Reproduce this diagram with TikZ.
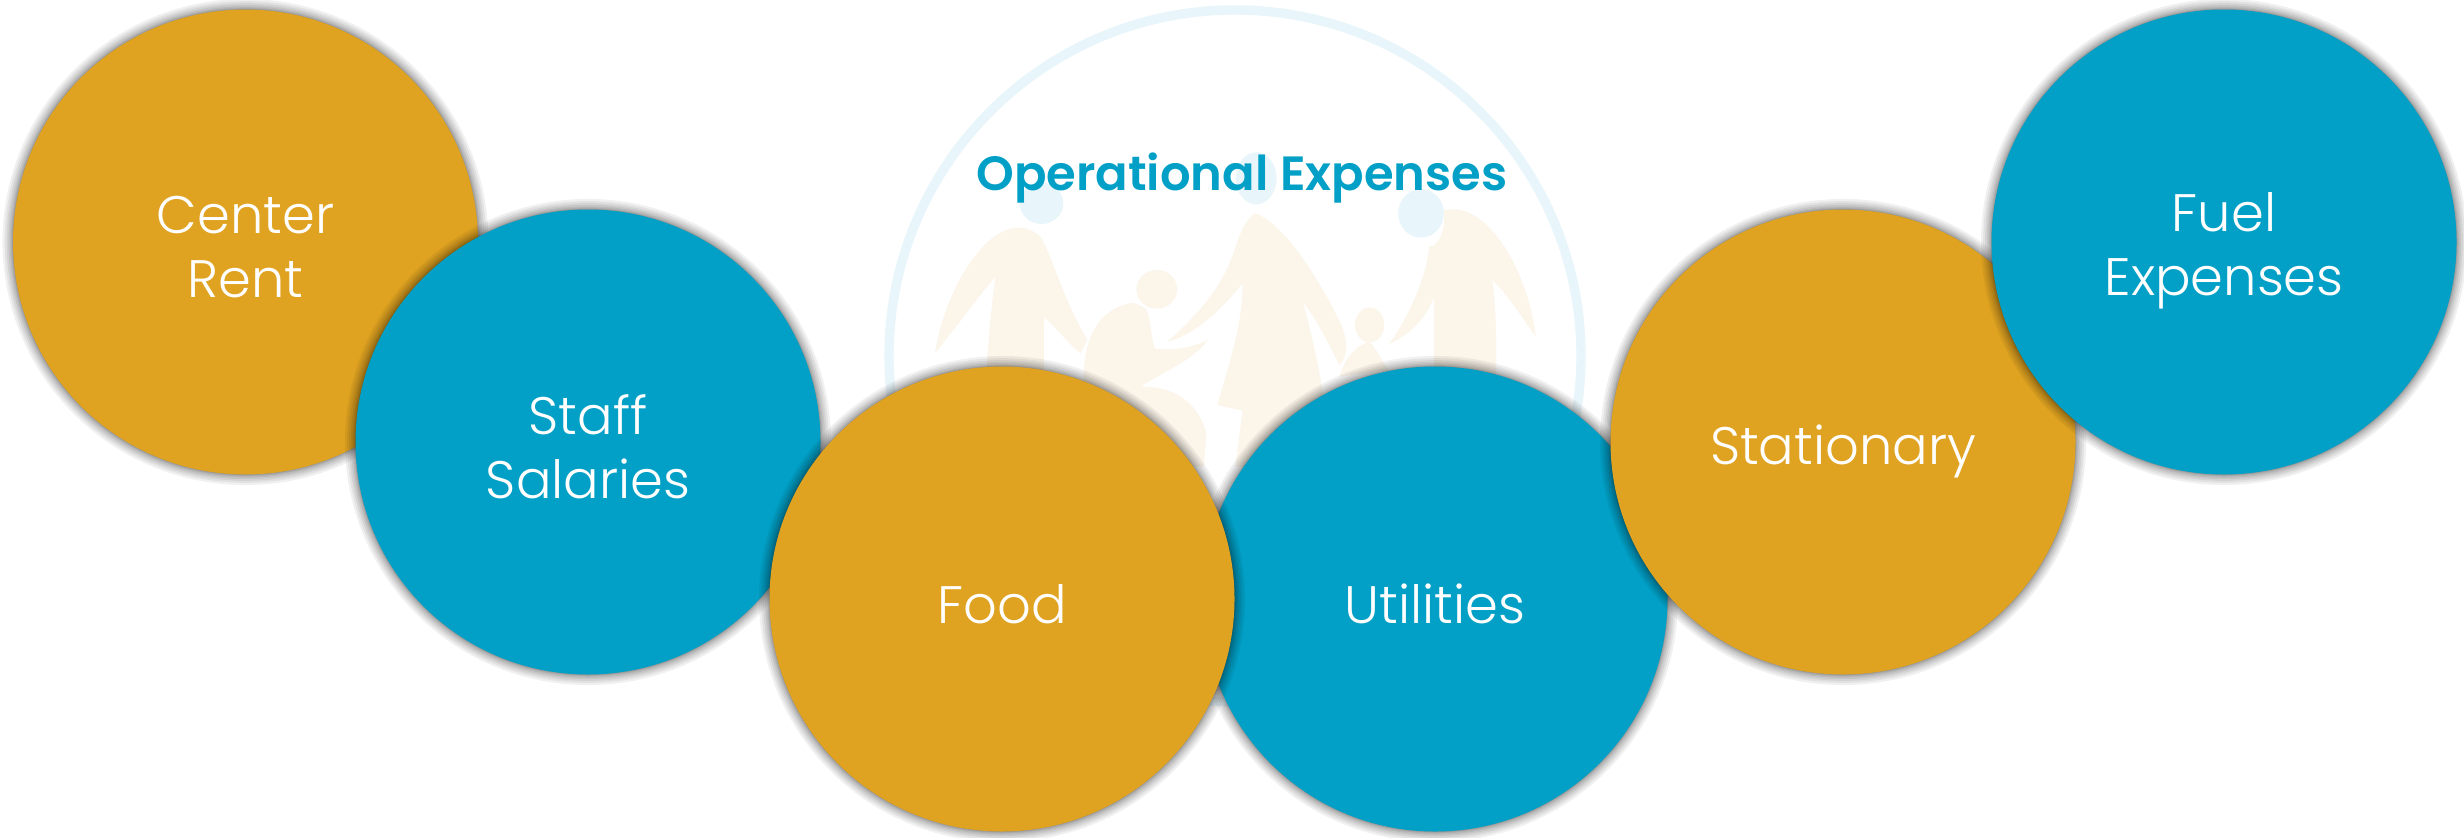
\documentclass[tikz,border=0pt]{standalone}
\usepackage{fontspec}
\setmainfont{Poppins Light}
\newfontfamily\titlefont{Poppins SemiBold}
\definecolor{gold}{HTML}{E0A321}
\definecolor{teal}{HTML}{02A0C6}
\definecolor{paleblue}{HTML}{E8F5FA}
\definecolor{cream}{HTML}{FBF5EA}
\newcommand{\bubble}[6]{%
  \foreach \k in {1,...,9}{\fill[black,opacity=.06] (#2,#3) circle ({232.5+\k*\k*0.13});}
  \node[disc,fill=#4] (#1) at (#2,#3) {};
  \node[disctext] (#1-text) at ([yshift=-#6*0.03cm]#1.center) {#5};}
\tikzset{disc/.style={circle,minimum size=465*0.03cm,inner sep=0pt},
  disctext/.style={inner sep=0pt,text=white,align=center,font=\fontsize{45}{55}\selectfont},
  headblue/.style={fill=paleblue},
  figure body/.style={fill=cream}}
\begin{document}
\begin{tikzpicture}[x=0.03cm,y=-0.03cm]
\useasboundingbox (0,0) rectangle (2464,837);
\fill[white] (0,0) rectangle (2464,837);
\draw[paleblue,line width=0.28cm] (1235,356) circle (346);
\begin{scope}[shift={(850,0)},xscale=0.4847,yscale=0.3333]
 % left adult
 \fill[headblue] (395,610) ellipse (45 and 62);
 \fill[figure body] (345,683) .. controls (270,690) and (195,880) .. (175,1060)
   .. controls (220,980) and (270,880) .. (300,830) .. controls (290,950) and (280,1050) .. (275,1400)
   -- (400,1400) -- (400,950) .. controls (430,990) and (450,1030) .. (475,1060) -- (490,1020)
   .. controls (440,900) and (420,780) .. (395,715) .. controls (385,695) and (365,683) .. (345,683) -- cycle;
 % middle adult
 \fill[headblue] (838,535) ellipse (42 and 78);
 \fill[figure body] (835,640) .. controls (800,680) and (800,750) .. (770,830)
   .. controls (740,910) and (690,980) .. (655,1025) .. controls (720,1000) and (770,920) .. (810,850)
   .. controls (810,980) and (780,1100) .. (758,1215) -- (810,1232) -- (795,1400) -- (990,1400)
   .. controls (985,1200) and (960,1050) .. (935,908) .. controls (965,960) and (990,1040) .. (1010,1095)
   .. controls (1030,1060) and (1025,1020) .. (1015,980) .. controls (980,870) and (900,670) .. (835,640) -- cycle;
 % right adult
 \fill[headblue] (1178,640) ellipse (47 and 73);
 \fill[figure body] (1250,628) .. controls (1330,640) and (1400,830) .. (1415,1010)
   .. controls (1385,950) and (1355,880) .. (1325,840) .. controls (1335,950) and (1335,1040) .. (1330,1400)
   -- (1205,1400) -- (1205,890) .. controls (1190,950) and (1160,1000) .. (1112,1032)
   .. controls (1150,960) and (1190,830) .. (1195,740) .. controls (1215,740) and (1230,690) .. (1225,630) -- cycle;
 % first child
 \fill[figure body] (633,868) ellipse (42 and 58);
 \fill[figure body] (585,908) .. controls (530,920) and (480,980) .. (482,1150)
   -- (600,1160) .. controls (680,1160) and (720,1220) .. (735,1300) -- (730,1400) -- (560,1400) -- (482,1150) -- (600,1160)
   .. controls (640,1120) and (710,1080) .. (738,1020) .. controls (710,1040) and (670,1055) .. (628,1045)
   .. controls (620,1000) and (620,950) .. (610,925) -- cycle;
 % second child
 \fill[figure body] (1072,975) ellipse (30 and 52);
 \fill[figure body] (1070,1025) .. controls (1040,1040) and (1020,1080) .. (1010,1130) -- (1110,1110)
   .. controls (1095,1080) and (1085,1040) .. (1070,1025) -- cycle;
\end{scope}
\node[text=teal,font=\titlefont\fontsize{41}{50}\selectfont] (title) at (1242,178) {Operational Expenses};
\bubble{rent}{245.5}{242}{gold}{Center\\Rent}{5}
\bubble{staff}{588}{442}{teal}{Staff\\Salaries}{5}
\bubble{util}{1435}{599}{teal}{Utilities}{5}
\bubble{food}{1002}{599}{gold}{Food}{5}
\bubble{stat}{1843}{442}{gold}{Stationary}{9}
\bubble{fuel}{2224}{242}{teal}{Fuel\\Expenses}{9}
\end{tikzpicture}
\end{document}
